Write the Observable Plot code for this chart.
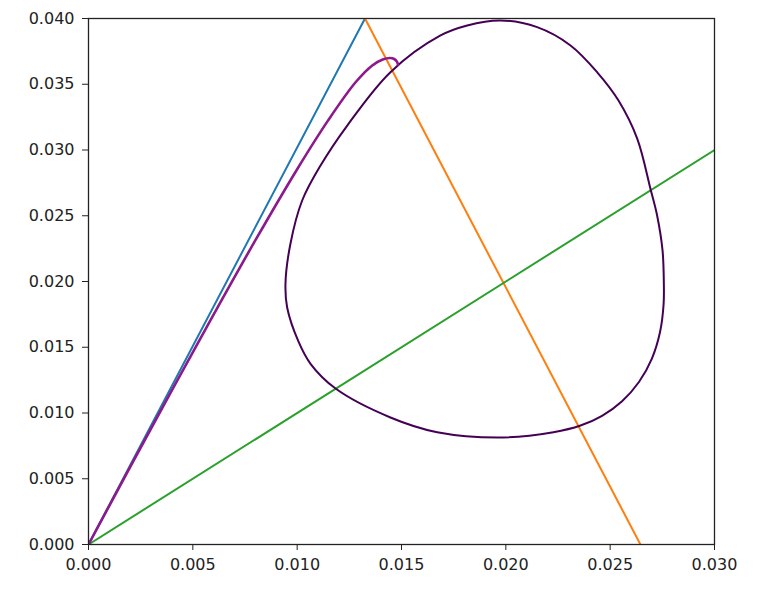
<!DOCTYPE html>
<html>
<head>
<meta charset="utf-8">
<script src="https://cdn.jsdelivr.net/npm/d3@7"></script>
<script src="https://cdn.jsdelivr.net/npm/@observablehq/plot@0.6"></script>
<style>
  html, body { margin: 0; padding: 0; background: #fff; }
  #chart svg { display: block; }
</style>
</head>
<body>
<div id="chart"></div>
<script>
// Tick values
const xTicks = [0, 0.005, 0.010, 0.015, 0.020, 0.025, 0.030];
const yTicks = [0, 0.005, 0.010, 0.015, 0.020, 0.025, 0.030, 0.035, 0.040];

// Straight lines
const blueX = [0, 0.01325];
const blueY = [0, 0.04];
const orangeX = [0.01325, 0.02645];
const orangeY = [0.04, 0];
const greenX = [0, 0.03];
const greenY = [0, 0.03];

// Closed orbit (dark purple)
const loopX = [0.01974, 0.01815, 0.01687, 0.01447, 0.01240, 0.01112, 0.01024, 0.00968, 0.00944, 0.00952, 0.01006, 0.01064, 0.01184, 0.01447, 0.01671, 0.01989, 0.02228, 0.02358, 0.02461, 0.02557, 0.02638, 0.02700, 0.02739, 0.02756, 0.02757, 0.02751, 0.02725, 0.02693, 0.02630, 0.02540, 0.02439, 0.02310, 0.02150];
const loopY = [0.03985, 0.03947, 0.03871, 0.03592, 0.03186, 0.02882, 0.02616, 0.02289, 0.01985, 0.01802, 0.01544, 0.01374, 0.01186, 0.00966, 0.00854, 0.00814, 0.00854, 0.00905, 0.00979, 0.01090, 0.01236, 0.01414, 0.01616, 0.01825, 0.02008, 0.02236, 0.02502, 0.02705, 0.03085, 0.03376, 0.03589, 0.03795, 0.03934];

// Trajectory from origin (purple)
const trajX = [0, 0.0020, 0.0040, 0.0060, 0.0080, 0.0100, 0.0115, 0.0128, 0.0136, 0.0141, 0.01445, 0.01465, 0.01478, 0.01483];
const trajY = [0, 0.0059, 0.01174, 0.0175, 0.02314, 0.02854, 0.03229, 0.03515, 0.03643, 0.03688, 0.03700, 0.03692, 0.03672, 0.03650];

const pts = (xs, ys) => xs.map((x, i) => ({x, y: ys[i]}));

const chart = Plot.plot({
  width: 762,
  height: 600,
  marginLeft: 88,
  marginRight: 48,
  marginTop: 18,
  marginBottom: 56,
  style: {fontFamily: "DejaVu Sans", fontSize: "16px", color: "#222", background: "#fff"},
  x: {domain: [0, 0.03]},
  y: {domain: [0, 0.04]},
  marks: [
    Plot.line(pts(blueX, blueY), {x: "x", y: "y", stroke: "#1f77b4", strokeWidth: 2, clip: true}),
    Plot.line(pts(orangeX, orangeY), {x: "x", y: "y", stroke: "#ff7f0e", strokeWidth: 2, clip: true}),
    Plot.line(pts(greenX, greenY), {x: "x", y: "y", stroke: "#2ca02c", strokeWidth: 2, clip: true}),
    Plot.line(pts(loopX, loopY), {x: "x", y: "y", stroke: "#440154", strokeWidth: 2, curve: "catmull-rom-closed", clip: true}),
    Plot.line(pts(trajX, trajY), {x: "x", y: "y", stroke: "#8c1a8c", strokeWidth: 2.6, curve: "catmull-rom", clip: true}),
    Plot.frame({stroke: "#222", strokeWidth: 1.3}),
    Plot.axisX({ticks: xTicks, tickFormat: d3.format(".3f"), tickSize: 6, tickPadding: 8, label: null, stroke: "#222"}),
    Plot.axisY({ticks: yTicks, tickFormat: d3.format(".3f"), tickSize: 6, tickPadding: 8, label: null, stroke: "#222"})
  ]
});
document.getElementById("chart").appendChild(chart);
</script>
</body>
</html>
